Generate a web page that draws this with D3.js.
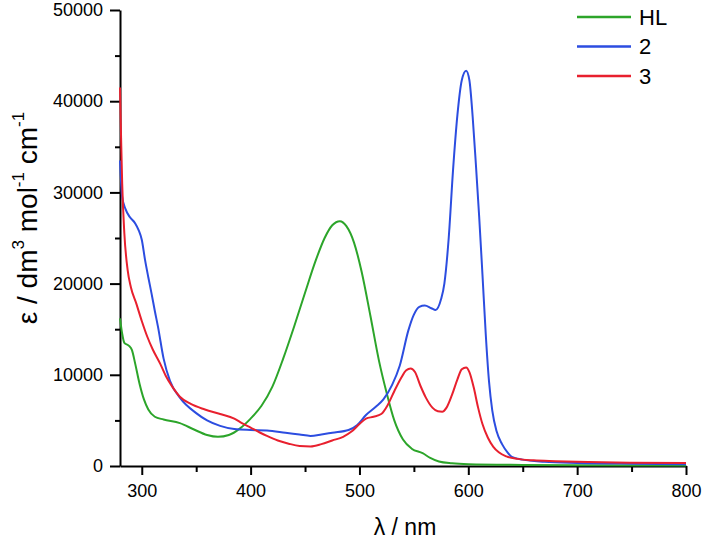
<!DOCTYPE html>
<html>
<head>
<meta charset="utf-8">
<script src="https://cdn.jsdelivr.net/npm/d3@7"></script>
<style>
    body { margin: 0; background: #fff; }
    svg text { font-family: "Liberation Sans", Arial, sans-serif; fill: #000; }
    .axis path, .axis line { stroke: #000; stroke-width: 2px; }
    .axis text { font-size: 18px; }
    .curve { fill: none; stroke-width: 2px; }
</style>
</head>
<body>
<div id="chart"></div>
<script>
// wavelength (nm) / epsilon pairs
const hlWave = [280, 282, 284, 288, 291, 294, 298, 302, 306, 312, 320, 335, 348, 360, 370, 380, 390, 400, 410, 420, 430, 440, 450, 460, 468, 475, 482, 488, 495, 502, 510, 518, 525, 532, 540, 548, 558, 565, 573, 585, 600, 650, 700, 800];
const hlEps  = [16200, 14500, 13500, 13200, 12700, 11200, 9000, 7300, 6200, 5400, 5100, 4700, 4000, 3400, 3200, 3400, 4100, 5200, 6600, 8700, 11800, 15300, 19000, 22600, 25000, 26400, 26850, 26300, 24500, 21300, 16500, 11500, 8000, 5000, 2900, 1900, 1400, 900, 500, 300, 200, 120, 80, 50];

const c2Wave = [280, 282, 285, 289, 294, 297, 300, 303, 306, 309, 312, 315, 320, 326, 335, 350, 360, 372, 385, 400, 415, 432, 445, 455, 465, 475, 490, 498, 506, 515, 522, 530, 537, 545, 550, 555, 560, 566, 570, 575, 578, 582, 586, 590, 594, 598, 601, 604, 607, 610, 613, 616, 619, 622, 626, 631, 636, 640, 650, 670, 700, 750, 800];
const c2Eps  = [33500, 29500, 28200, 27300, 26600, 25900, 24800, 22600, 20700, 18900, 17000, 15200, 11800, 9300, 7500, 5800, 5000, 4400, 4050, 3950, 3900, 3650, 3450, 3300, 3450, 3650, 3950, 4500, 5600, 6500, 7300, 8900, 11000, 14900, 16600, 17450, 17600, 17300, 17100, 18300, 20000, 25000, 32500, 38500, 42300, 43350, 42300, 38300, 33000, 27300, 21000, 14500, 9300, 6100, 3800, 2400, 1500, 1000, 700, 470, 340, 250, 200];

const c3Wave = [280, 281, 282, 284, 287, 290, 295, 300, 305, 310, 317, 322, 328, 335, 345, 358, 372, 385, 392, 400, 408, 415, 425, 435, 445, 455, 465, 475, 485, 493, 500, 506, 513, 520, 526, 532, 538, 543, 547, 551, 556, 561, 567, 572, 576, 580, 585, 590, 594, 598, 601, 605, 609, 613, 618, 623, 628, 635, 645, 660, 680, 710, 750, 800];
const c3Eps  = [41500, 36000, 31000, 25500, 21500, 19600, 17800, 15900, 14200, 12800, 11200, 9900, 8700, 7600, 6800, 6200, 5700, 5200, 4700, 4200, 3700, 3300, 2800, 2450, 2200, 2150, 2400, 2800, 3200, 3800, 4600, 5200, 5400, 5700, 6700, 8200, 9600, 10500, 10700, 10300, 8800, 7500, 6400, 6000, 5950, 6400, 7800, 9500, 10600, 10800, 10300, 8600, 6400, 4600, 3100, 2100, 1500, 1050, 780, 620, 530, 430, 360, 320];

const seriesNames  = ["HL", "2", "3"];
const seriesColors = ["#2ca52a", "#2c4de0", "#e8202e"];
const xMajorTicks = [300, 400, 500, 600, 700, 800];
const xMinorTicks = [350, 450, 550, 650, 750];
const yMajorTicks = [0, 10000, 20000, 30000, 40000, 50000];
const yMinorTicks = [5000, 15000, 25000, 35000, 45000];

const width = 704, height = 539;
const plotLeft = 120, plotRight = 686, plotTop = 10, plotBottom = 466;

const svg = d3.select('#chart').append('svg')
    .attr('width', width)
    .attr('height', height);

const x = d3.scaleLinear().domain([280, 800]).range([plotLeft, plotRight]);
const y = d3.scaleLinear().domain([0, 50000]).range([plotBottom, plotTop]);

// minor ticks first, then main axes on top
svg.append('g')
    .attr('class', 'axis')
    .attr('transform', 'translate(0,' + plotBottom + ')')
    .call(d3.axisBottom(x).tickValues(xMinorTicks).tickSize(6).tickFormat(''))
    .select('.domain').remove();

svg.append('g')
    .attr('class', 'axis')
    .attr('transform', 'translate(' + plotLeft + ',0)')
    .call(d3.axisLeft(y).tickValues(yMinorTicks).tickSize(5).tickFormat(''))
    .select('.domain').remove();

svg.append('g')
    .attr('class', 'axis')
    .attr('transform', 'translate(0,' + plotBottom + ')')
    .call(d3.axisBottom(x).tickValues(xMajorTicks).tickSize(9).tickSizeOuter(0).tickPadding(9).tickFormat(d3.format('d')));

svg.append('g')
    .attr('class', 'axis')
    .attr('transform', 'translate(' + plotLeft + ',0)')
    .call(d3.axisLeft(y).tickValues(yMajorTicks).tickSize(10).tickSizeOuter(0).tickPadding(7).tickFormat(d3.format('d')));

// curves
const line = d3.line()
    .x(function(d){ return x(d[0]); })
    .y(function(d){ return y(d[1]); })
    .curve(d3.curveMonotoneX);

const allData = [
    d3.zip(hlWave, hlEps),
    d3.zip(c2Wave, c2Eps),
    d3.zip(c3Wave, c3Eps)
];

svg.append('g')
    .selectAll('path')
    .data(allData)
    .enter()
    .append('path')
    .attr('class', 'curve')
    .attr('stroke', function(d, i){ return seriesColors[i]; })
    .attr('d', line);

// legend
const legend = svg.append('g')
    .selectAll('g')
    .data(seriesNames)
    .enter()
    .append('g')
    .attr('transform', function(d, i){ return 'translate(577,' + (17 + i * 29.5) + ')'; });

legend.append('line')
    .attr('x1', 0).attr('x2', 54)
    .attr('stroke', function(d, i){ return seriesColors[i]; })
    .attr('stroke-width', 2.5);

legend.append('text')
    .attr('x', 62)
    .attr('dy', '0.36em')
    .style('font-size', '22px')
    .text(function(d){ return d; });

// axis titles
svg.append('text')
    .attr('x', (plotLeft + plotRight) / 2 + 2)
    .attr('y', 535)
    .attr('text-anchor', 'middle')
    .style('font-size', '23px')
    .text('λ / nm');

const yTitle = svg.append('text')
    .attr('transform', 'translate(37,218) rotate(-90)')
    .attr('text-anchor', 'middle')
    .style('font-size', '28px');
yTitle.append('tspan').text('ε / dm');
yTitle.append('tspan').attr('dy', -13).style('font-size', '17px').text('3');
yTitle.append('tspan').attr('dy', 13).text(' mol');
yTitle.append('tspan').attr('dy', -13).style('font-size', '17px').text('-1');
yTitle.append('tspan').attr('dy', 13).text(' cm');
yTitle.append('tspan').attr('dy', -13).style('font-size', '17px').text('-1');
</script>
</body>
</html>
